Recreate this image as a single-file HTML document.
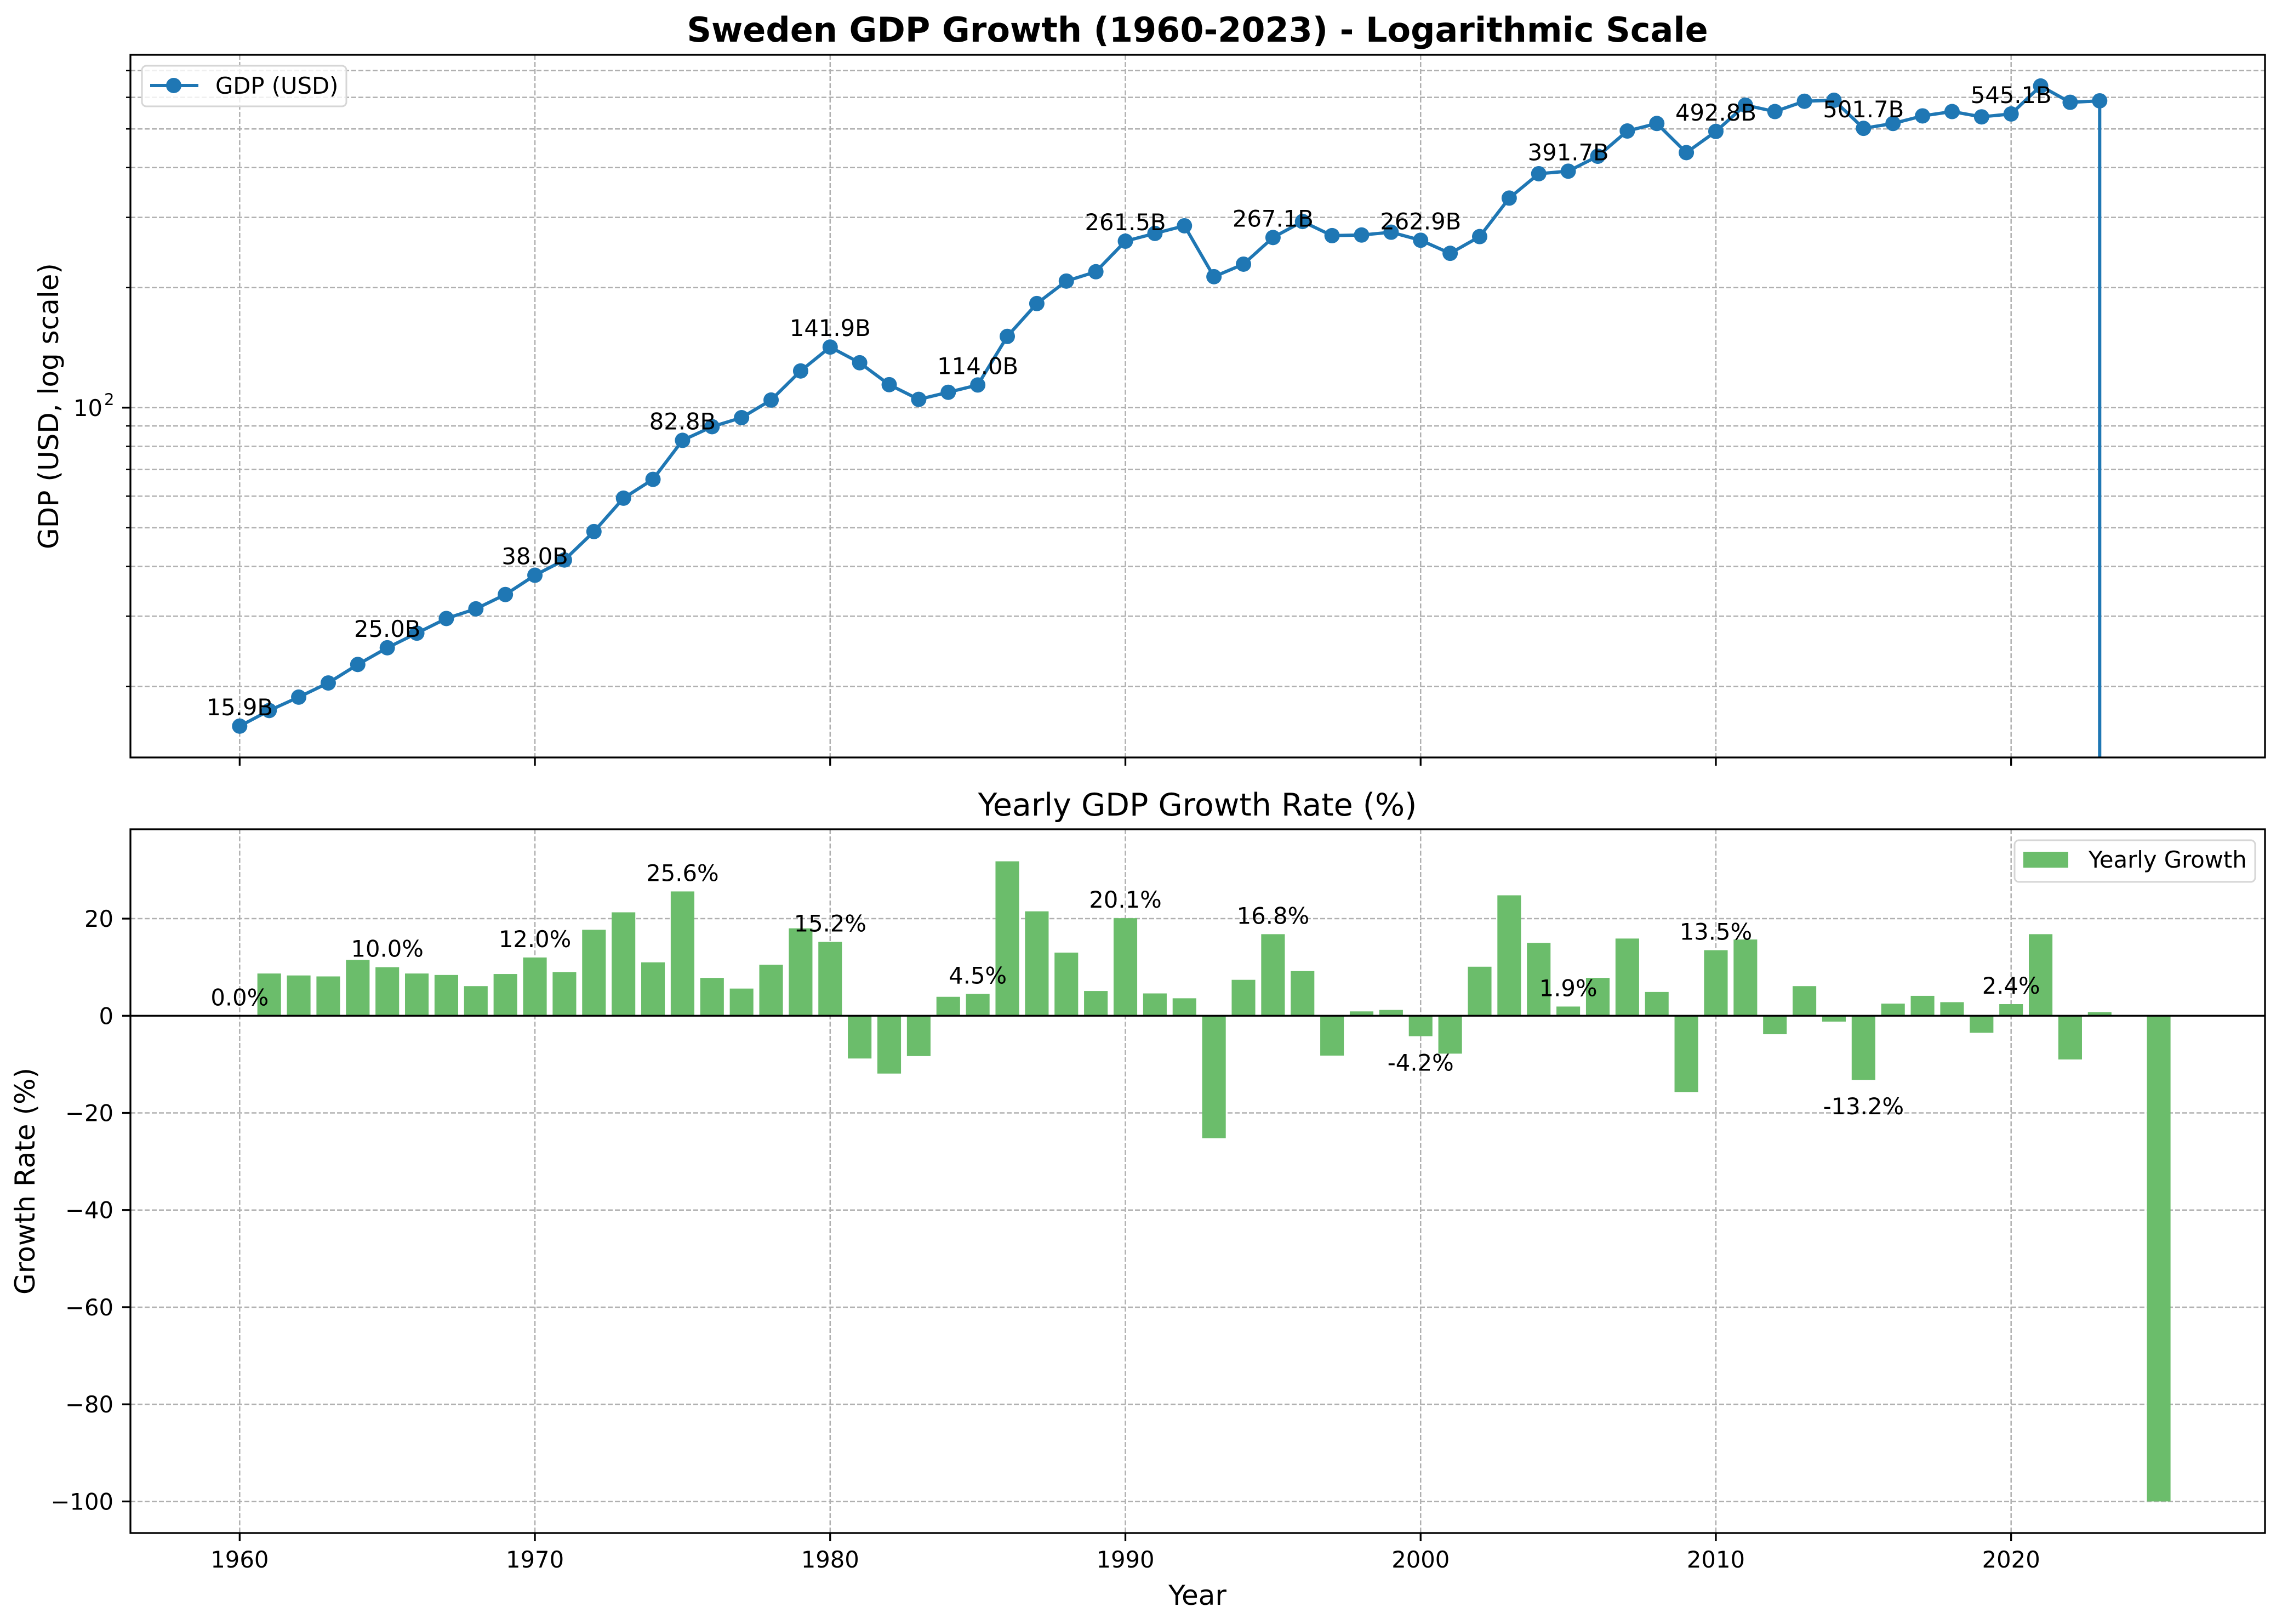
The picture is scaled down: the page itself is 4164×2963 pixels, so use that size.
<!DOCTYPE html>
<html><head><meta charset="utf-8"><title>Sweden GDP Growth</title>
<style>
html,body{margin:0;padding:0;background:#fff;}
svg{display:block;font-family:"DejaVu Sans","Liberation Sans",sans-serif;}
</style></head>
<body>
<svg id="chart" xmlns="http://www.w3.org/2000/svg" width="4164" height="2963" viewBox="0 0 4164 2963">
<rect x="0" y="0" width="4164" height="2963" fill="#fff"/>
<text x="2185" y="76" text-anchor="middle" font-size="62" font-weight="bold">Sweden GDP Growth (1960-2023) - Logarithmic Scale</text>
<text x="2185" y="1488" text-anchor="middle" font-size="57">Yearly GDP Growth Rate (%)</text>
<g id="topAxes"></g>
<g id="botAxes"></g>
<text transform="translate(106,741) rotate(-90)" text-anchor="middle" font-size="50">GDP (USD, log scale)</text>
<text transform="translate(63,2155) rotate(-90)" text-anchor="middle" font-size="50">Growth Rate (%)</text>
<text x="2185" y="2928" text-anchor="middle" font-size="50">Year</text>
</svg>
<script>
// ---- data ----
const gdpYears = [1960,1961,1962,1963,1964,1965,1966,1967,1968,1969,1970,1971,1972,1973,1974,1975,1976,1977,1978,1979,1980,1981,1982,1983,1984,1985,1986,1987,1988,1989,1990,1991,1992,1993,1994,1995,1996,1997,1998,1999,2000,2001,2002,2003,2004,2005,2006,2007,2008,2009,2010,2011,2012,2013,2014,2015,2016,2017,2018,2019,2020,2021,2022,2023];
const gdpValues = [15.9,17.4,18.8,20.4,22.7,25.0,27.2,29.6,31.3,34.0,38.0,41.5,48.9,59.3,66.1,82.8,89.6,94.4,104.5,123.6,141.9,129.6,114.2,104.9,109.3,114.0,150.9,182.4,207.7,219.2,261.5,273.5,285.8,213,229,267.1,293,270,271,275.4,262.9,243.8,268.5,335.4,386,391.7,427,494,516,436,492.8,573.6,552.7,586.6,590,501.7,516,539,552.7,536,545.1,640.6,583,588];
const gdpLabelYears = [1960,1965,1970,1975,1980,1985,1990,1995,2000,2005,2010,2015,2020];
const gdpLabelTexts = ["15.9B","25.0B","38.0B","82.8B","141.9B","114.0B","261.5B","267.1B","262.9B","391.7B","492.8B","501.7B","545.1B"];
const growthYears = [1960,1961,1962,1963,1964,1965,1966,1967,1968,1969,1970,1971,1972,1973,1974,1975,1976,1977,1978,1979,1980,1981,1982,1983,1984,1985,1986,1987,1988,1989,1990,1991,1992,1993,1994,1995,1996,1997,1998,1999,2000,2001,2002,2003,2004,2005,2006,2007,2008,2009,2010,2011,2012,2013,2014,2015,2016,2017,2018,2019,2020,2021,2022,2023,2025];
const growthValues = [0,8.7,8.3,8.1,11.5,10.0,8.7,8.4,6.1,8.6,12.0,9.0,17.7,21.3,11.0,25.6,7.8,5.6,10.5,18.0,15.2,-8.8,-11.9,-8.3,3.9,4.5,31.8,21.5,13.0,5.1,20.1,4.6,3.6,-25.2,7.4,16.8,9.2,-8.2,0.9,1.2,-4.2,-7.8,10.1,24.8,15.0,1.9,7.8,15.9,4.9,-15.7,13.5,15.7,-3.8,6.1,-1.2,-13.2,2.5,4.1,2.8,-3.5,2.4,16.8,-9.0,0.75,-100];
const growthLabelYears = [1960,1965,1970,1975,1980,1985,1990,1995,2000,2005,2010,2015,2020];
const growthLabelTexts = ["0.0%","10.0%","12.0%","25.6%","15.2%","4.5%","20.1%","16.8%","-4.2%","1.9%","13.5%","-13.2%","2.4%"];
const growthTicks = [20,0,-20,-40,-60,-80,-100];
const growthTickLabels = ["20","0","\u221220","\u221240","\u221260","\u221280","\u2212100"];
const xTicks = [1960,1970,1980,1990,2000,2010,2020];
const logMinor = [20,30,40,50,60,70,80,90,200,300,400,500,600,700];

// ---- layout ----
const NS = "http://www.w3.org/2000/svg";
const AX_L = 238, AX_R = 4133;
const TOP_T = 100, TOP_B = 1382;
const BOT_T = 1513, BOT_B = 2797;
const X0 = 1956.3, X1 = 2028.6;
const LOG_MIN = Math.log10(13.27), LOG_MAX = Math.log10(767);
const G_MIN = -106.5, G_MAX = 38.4;
function xS(yr){ return AX_L + (yr - X0) / (X1 - X0) * (AX_R - AX_L); }
function yLog(v){ return TOP_B - (Math.log10(v) - LOG_MIN) / (LOG_MAX - LOG_MIN) * (TOP_B - TOP_T); }
function yG(v){ return BOT_B - (v - G_MIN) / (G_MAX - G_MIN) * (BOT_B - BOT_T); }
function mk(tag, attrs, parent){
  const e = document.createElementNS(NS, tag);
  for (const k in attrs) e.setAttribute(k, attrs[k]);
  parent.appendChild(e);
  return e;
}
const topG = document.getElementById('topAxes');
const botG = document.getElementById('botAxes');
const gridStyle = {stroke:'#b0b0b0','stroke-width':2.5,'stroke-dasharray':'9,4',fill:'none'};

// ===== top axes =====
for (const t of xTicks){
  const l = mk('line', Object.assign({x1:xS(t),x2:xS(t),y1:TOP_T,y2:TOP_B}, gridStyle), topG);
  
  
  const tk = mk('line', {x1:xS(t),x2:xS(t),y1:TOP_B,y2:TOP_B+15,stroke:'#000','stroke-width':3.3}, topG);
  
  
}
for (const v of logMinor.concat([100])){
  const y = yLog(v);
  const l = mk('line', Object.assign({x1:AX_L,x2:AX_R,y1:y,y2:y}, gridStyle), topG);
  
  
  const tk = mk('line', {x1:AX_L-(v===100?15:8),x2:AX_L,y1:y,y2:y,stroke:'#000','stroke-width':(v===100?3.3:2.5)}, topG);
  
  
}
{
  const t = mk('text', {x:187,y:yLog(100)+15,'text-anchor':'end','font-size':41.7}, topG);
  t.textContent = '10';
  
  
  const s = mk('text', {x:190,y:yLog(100)-5,'font-size':29}, topG);
  s.textContent = '2';
  
  
}
{
  let d = '';
  gdpYears.forEach((yr,i)=>{ d += (i? 'L':'M') + xS(yr).toFixed(1) + ',' + yLog(gdpValues[i]).toFixed(1); });
  const lastX = xS(gdpYears[gdpYears.length-1]);
  d += 'L' + lastX.toFixed(1) + ',' + TOP_B;
  const p = mk('path', {d:d,stroke:'#1f77b4','stroke-width':6,fill:'none','stroke-linejoin':'round'}, topG);
  
  
  gdpYears.forEach((yr,i)=>{
    const c = mk('circle', {cx:xS(yr),cy:yLog(gdpValues[i]),r:14,fill:'#1f77b4'}, topG);
    
    
  });
}
gdpLabelYears.forEach((yr,i)=>{
  const idx = gdpYears.indexOf(yr);
  const t = mk('text', {x:xS(yr),y:yLog(gdpValues[idx])-20,'text-anchor':'middle','font-size':41.7}, topG);
  t.textContent = gdpLabelTexts[i];
  
  
});
{
  const r = mk('rect', {x:AX_L,y:TOP_T,width:AX_R-AX_L,height:TOP_B-TOP_T,fill:'none',stroke:'#000','stroke-width':3.3}, topG);
  
  
}
{
  const lg = mk('g', {}, topG);
  
  
  mk('rect', {x:259,y:120,width:373,height:74,rx:8,fill:'#fff','fill-opacity':0.8,stroke:'#d6d6d6','stroke-width':3}, lg);
  mk('line', {x1:274,x2:362,y1:156,y2:156,stroke:'#1f77b4','stroke-width':6}, lg);
  mk('circle', {cx:317,cy:156,r:14,fill:'#1f77b4'}, lg);
  const t = mk('text', {x:393,y:171,'font-size':41.7}, lg);
  t.textContent = 'GDP (USD)';
  
  
}

// ===== bottom axes =====
for (const t of xTicks){
  const l = mk('line', Object.assign({x1:xS(t),x2:xS(t),y1:BOT_T,y2:BOT_B}, gridStyle), botG);
  
  
  const tk = mk('line', {x1:xS(t),x2:xS(t),y1:BOT_B,y2:BOT_B+15,stroke:'#000','stroke-width':3.3}, botG);
  
  
  const lb = mk('text', {x:xS(t),y:2860,'text-anchor':'middle','font-size':41.7}, botG);
  lb.textContent = String(t);
  
  
}
growthTicks.forEach((v,i)=>{
  const y = yG(v);
  const l = mk('line', Object.assign({x1:AX_L,x2:AX_R,y1:y,y2:y}, gridStyle), botG);
  
  
  const tk = mk('line', {x1:AX_L-15,x2:AX_L,y1:y,y2:y,stroke:'#000','stroke-width':3.3}, botG);
  
  
  const lb = mk('text', {x:207,y:y+15,'text-anchor':'end','font-size':41.7}, botG);
  lb.textContent = growthTickLabels[i];
  
  
});
const bw = 0.8 * (AX_R-AX_L)/(X1-X0);
growthYears.forEach((yr,i)=>{
  const v = growthValues[i];
  const y0 = yG(0), y1 = yG(v);
  const b = mk('rect', {x:xS(yr)-bw/2,y:Math.min(y0,y1),width:bw,height:Math.abs(y1-y0),fill:'#6bbd6b'}, botG);
  
  
});
{
  const z = mk('line', {x1:AX_L,x2:AX_R,y1:yG(0),y2:yG(0),stroke:'#000','stroke-width':3.3}, botG);
  
  
}
growthLabelYears.forEach((yr,i)=>{
  const idx = growthYears.indexOf(yr);
  const v = growthValues[idx];
  const y = v >= 0 ? yG(v) - 19 : yG(v) + 63;
  const t = mk('text', {x:xS(yr),y:y,'text-anchor':'middle','font-size':41.7}, botG);
  t.textContent = growthLabelTexts[i];
  
  
});
{
  const r = mk('rect', {x:AX_L,y:BOT_T,width:AX_R-AX_L,height:BOT_B-BOT_T,fill:'none',stroke:'#000','stroke-width':3.3}, botG);
  
  
}
{
  const lg = mk('g', {}, botG);
  
  
  mk('rect', {x:3676,y:1533,width:439,height:76,rx:8,fill:'#fff','fill-opacity':0.8,stroke:'#d6d6d6','stroke-width':3}, lg);
  mk('rect', {x:3692,y:1554,width:82,height:29,fill:'#6bbd6b'}, lg);
  const t = mk('text', {x:3811,y:1583,'font-size':41.7}, lg);
  t.textContent = 'Yearly Growth';
  
  
}
</script>
</body></html>
